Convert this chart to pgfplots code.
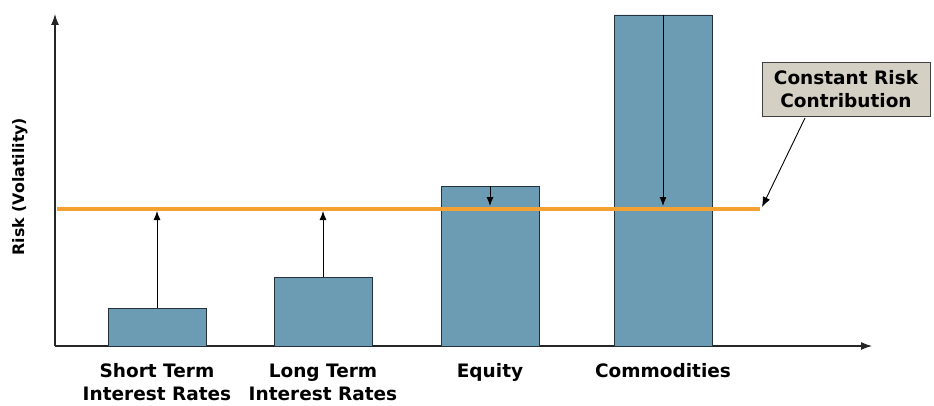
\documentclass[border=0pt]{standalone}
\usepackage{pgfplots}
\pgfplotsset{compat=1.18}
\usepackage{fontspec}
\setmainfont{DejaVu Sans}
\usetikzlibrary{arrows.meta}
\definecolor{barblue}{RGB}{108,155,180}
\definecolor{baredge}{RGB}{35,50,60}
\definecolor{lineorange}{RGB}{245,160,50}
\definecolor{boxfill}{RGB}{212,208,196}
\begin{document}
\begin{tikzpicture}
\useasboundingbox (0,0) rectangle (934pt,405pt);
\begin{axis}[
  at={(55pt,59pt)}, anchor=south west,
  width=817pt, height=332pt, scale only axis,
  xmin=0, xmax=817, ymin=0, ymax=332,
  axis lines=left,
  axis line style={-{Latex[length=11pt,width=8pt]}, line width=1.1pt, black!85},
  ytick=\empty,
  xtick={102,268,435,608},
  xticklabels={{Short Term\\Interest Rates},{Long Term\\Interest Rates},{Equity},{Commodities}},
  xtick style={draw=none},
  xticklabel style={align=center, font=\fontsize{18.5}{23}\selectfont\bfseries, anchor=north, yshift=-12pt},
  ylabel={Risk (Volatility)},
  ylabel style={font=\fontsize{15.8}{18}\selectfont\bfseries, at={(axis description cs:-0.043,0.48)}, anchor=center},
  clip=false,
]
\addplot[ybar, bar width=98, bar shift=0pt, fill=barblue, draw=baredge, line width=0.8pt]
  coordinates {(102,38) (268,69) (435,160) (608,331)};
\addplot[draw=lineorange, line width=4pt] coordinates {(2,137) (705,137)};
\addplot[black, line width=0.9pt, -{Latex[length=9pt,width=7pt]},
  quiver={u=\thisrow{u}, v=\thisrow{v}}] table {
x y u v
102 38 0 97
268 69 0 66
435 160 0 -20
608 331 0 -191
};
\node[draw=black!75, line width=0.8pt, fill=boxfill, align=center,
  font=\fontsize{18.5}{23}\selectfont\bfseries, minimum width=168pt, minimum height=54pt, inner sep=2pt]
  (box) at (axis cs:791,257) {Constant Risk\\Contribution};
\draw[black, line width=0.9pt, -{Latex[length=10pt,width=8pt]}] (axis cs:750,228) -- (axis cs:707,139);
\end{axis}
\end{tikzpicture}
\end{document}
